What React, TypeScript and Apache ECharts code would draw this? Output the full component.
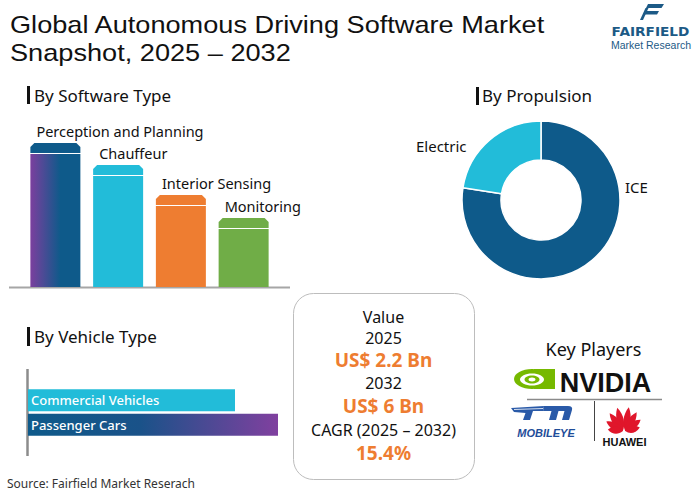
import React, { useEffect, useRef } from "react";
import * as echarts from "echarts";

const titleLines = ["Global Autonomous Driving Software Market", "Snapshot, 2025 – 2032"];
const softwareTypes = ["Perception and Planning", "Chauffeur", "Interior Sensing", "Monitoring"];
const softwareValues = [144, 122, 92, 69];
const propulsionTypes = ["ICE", "Electric"];
const propulsionValues = [77.5, 22.5];
const vehicleTypes = ["Commercial Vehicles", "Passenger Cars"];
const vehicleValues = [207, 250];
const valueLines = ["Value", "2025", "US$ 2.2 Bn", "2032", "US$ 6 Bn", "CAGR (2025 – 2032)", "15.4%"];
const sectionTitles = ["By Software Type", "By Propulsion", "By Vehicle Type"];
const sourceText = "Source: Fairfield Market Reserach";

const FONT = "'Noto Sans', sans-serif";
const DARK_BLUE = "#0e5a8a";
const PURPLE = "#7b3f9e";
const CYAN = "#22bcd9";
const ORANGE = "#ee7d31";
const GREEN = "#70ad47";

echarts.graphic.registerShape(
  "petal",
  echarts.graphic.extendPath("M0 0 C-4.5 -5 -5.5 -13 -1 -20 C4.5 -13 4 -5 0 0 Z", {})
);
echarts.graphic.registerShape(
  "mobM",
  echarts.graphic.extendPath(
    "M33 0 L57 0 Q62 0 61 4 L58 14 L51 14 L53.5 5 L47.5 5 L45 14 L38 14 L40.5 5 L32 5 Z",
    {}
  )
);
echarts.graphic.registerShape(
  "mobWing",
  echarts.graphic.extendPath("M0 2 L33 0 L32 5 L22 5 L19 14 L12 14 L14.5 7 L3 6 Z", {})
);

const softwareBody = [
  new echarts.graphic.LinearGradient(0, 0, 1, 0, [
    { offset: 0, color: PURPLE },
    { offset: 0.6, color: DARK_BLUE },
    { offset: 1, color: DARK_BLUE },
  ]),
  CYAN,
  ORANGE,
  GREEN,
];
const softwareCap = [DARK_BLUE, CYAN, ORANGE, GREEN];

export default function App() {
  const ref = useRef<HTMLDivElement>(null);
  useEffect(() => {
    const chart = echarts.init(ref.current!, undefined, { renderer: "svg" });

    const petals: any[] = [];
    const angles = [11, 34, 57, 80];
    const scales = [1.2, 1.1, 0.95, 0.75];
    angles.forEach((a, i) => {
      [1, -1].forEach((s) => {
        petals.push({
          type: "petal",
          x: 624 + s * 1.2,
          y: 431,
          rotation: (s * -a * Math.PI) / 180,
          scaleX: 1,
          scaleY: scales[i],
          style: { fill: "#e0162b" },
        });
      });
    });

    const valueStyles = [
      { y: 317, size: 16, color: "#111", bold: false },
      { y: 338, size: 16, color: "#111", bold: false },
      { y: 360, size: 19, color: ORANGE, bold: true },
      { y: 383, size: 16, color: "#111", bold: false },
      { y: 406, size: 19, color: ORANGE, bold: true },
      { y: 430, size: 16, color: "#111", bold: false },
      { y: 453, size: 19, color: ORANGE, bold: true },
    ];

    const option: any = {
      animation: false,
      backgroundColor: "#fff",
      grid: [
        { left: 24, top: 87, width: 251, height: 200 },
        { left: 28, top: 388, width: 300, height: 49 },
      ],
      xAxis: [
        { gridIndex: 0, type: "category", data: softwareTypes, show: false },
        { gridIndex: 1, type: "value", min: 0, max: 300, show: false },
      ],
      yAxis: [
        { gridIndex: 0, type: "value", min: 0, max: 200, show: false },
        { gridIndex: 1, type: "category", data: vehicleTypes, inverse: true, show: false },
      ],
      series: [
        {
          type: "custom",
          xAxisIndex: 0,
          yAxisIndex: 0,
          data: softwareValues.map((v, i) => [i, v]),
          renderItem: (params: any, api: any) => {
            const idx = api.value(0);
            const val = api.value(1);
            const top = api.coord([idx, val]);
            const base = api.coord([idx, 0]);
            const w = 50;
            const x0 = top[0] - w / 2;
            const capH = 10;
            return {
              type: "group",
              children: [
                {
                  type: "rect",
                  shape: { x: x0, y: top[1] + capH + 1, width: w, height: base[1] - top[1] - capH - 1 },
                  style: { fill: softwareBody[idx] },
                },
                {
                  type: "polygon",
                  shape: {
                    points: [
                      [x0, top[1] + capH],
                      [x0, top[1] + 4],
                      [x0 + 4, top[1]],
                      [x0 + w - 4, top[1]],
                      [x0 + w, top[1] + 4],
                      [x0 + w, top[1] + capH],
                    ],
                  },
                  style: { fill: softwareCap[idx] },
                },
                {
                  type: "text",
                  style: {
                    text: softwareTypes[idx],
                    x: x0 + 6,
                    y: top[1] - 12,
                    fill: "#111",
                    fontSize: 14.5,
                    fontFamily: FONT,
                    align: "left",
                    verticalAlign: "middle",
                  },
                },
              ],
            };
          },
        },
        {
          type: "pie",
          center: [541, 200],
          radius: [40, 79],
          startAngle: 90,
          clockwise: true,
          itemStyle: { borderColor: "#fff", borderWidth: 1.5 },
          label: {
            show: true,
            position: "outside",
            formatter: "{b}",
            color: "#111",
            fontSize: 15,
            fontFamily: FONT,
          },
          labelLine: { show: false },
          labelLayout: (p: any) =>
            p.dataIndex === 0
              ? { x: 625, y: 187, align: "left", verticalAlign: "middle" }
              : { x: 416, y: 146, align: "left", verticalAlign: "middle" },
          data: propulsionTypes.map((n, i) => ({
            name: n,
            value: propulsionValues[i],
            itemStyle: { color: i === 0 ? DARK_BLUE : CYAN },
          })),
        },
        {
          type: "bar",
          xAxisIndex: 1,
          yAxisIndex: 1,
          barWidth: 22,
          label: {
            show: true,
            position: "insideLeft",
            distance: 3,
            formatter: "{b}",
            color: "#fff",
            fontSize: 13,
            fontWeight: 500,
            fontFamily: FONT,
          },
          data: vehicleValues.map((v, i) => ({
            value: v,
            itemStyle: {
              color:
                i === 0
                  ? CYAN
                  : new echarts.graphic.LinearGradient(0, 0, 1, 0, [
                      { offset: 0, color: DARK_BLUE },
                      { offset: 0.45, color: "#1a5289" },
                      { offset: 1, color: "#80409f" },
                    ]),
            },
          })),
        },
      ],
      graphic: [
        // title
        ...titleLines.map((t, i) => ({
          type: "text",
          x: 10,
          y: 24 + i * 28,
          scaleX: 1.095,
          style: {
            text: t,
            fill: "#111",
            fontSize: 24.8,
            fontFamily: "'Liberation Sans', sans-serif",
            verticalAlign: "middle",
          },
        })),
        // Fairfield logo
        { type: "polygon", shape: { points: [[648, 4], [664, 4], [661.5, 8], [646, 8]] }, style: { fill: "#1c5a86" } },
        { type: "polygon", shape: { points: [[645, 11], [659, 11], [657, 14.5], [644, 14.5]] }, style: { fill: "#1c5a86" } },
        { type: "polygon", shape: { points: [[645.5, 8], [648.5, 8], [643, 20], [640, 20]] }, style: { fill: "#1c5a86" } },
        {
          type: "text",
          x: 650.5,
          y: 31.5,
          scaleX: 1.19,
          style: { text: "FAIRFIELD", fill: "#1c5a86", fontSize: 11.5, fontWeight: "bold", fontFamily: "'DejaVu Sans', sans-serif", align: "center", verticalAlign: "middle" },
        },
        {
          type: "text",
          x: 651,
          y: 44.5,
          style: { text: "Market Research", fill: "#1c5a86", fontSize: 10.5, fontFamily: "'Liberation Sans', sans-serif", align: "center", verticalAlign: "middle" },
        },
        // section headers
        { type: "rect", shape: { x: 27, y: 86, width: 3, height: 18 }, style: { fill: "#111" } },
        { type: "text", x: 34, y: 95, style: { text: sectionTitles[0], fill: "#111", fontSize: 17, fontFamily: FONT, verticalAlign: "middle" } },
        { type: "rect", shape: { x: 476, y: 87, width: 3, height: 18 }, style: { fill: "#111" } },
        { type: "text", x: 482, y: 95, style: { text: sectionTitles[1], fill: "#111", fontSize: 17, fontFamily: FONT, verticalAlign: "middle" } },
        { type: "rect", shape: { x: 27, y: 327, width: 3, height: 19 }, style: { fill: "#111" } },
        { type: "text", x: 34, y: 336, style: { text: sectionTitles[2], fill: "#111", fontSize: 17, fontFamily: FONT, verticalAlign: "middle" } },
        // axis lines
        { type: "line", shape: { x1: 9, y1: 287.5, x2: 290, y2: 287.5 }, style: { stroke: "#a6a6a6", lineWidth: 2 } },
        { type: "line", shape: { x1: 27.5, y1: 369, x2: 27.5, y2: 456 }, style: { stroke: "#8c8c8c", lineWidth: 2.5 } },
        // value box
        { type: "rect", shape: { x: 293.5, y: 293.5, width: 181, height: 186, r: 20 }, style: { fill: "none", stroke: "#bdbdbd", lineWidth: 1 } },
        ...valueLines.map((t, i) => ({
          type: "text",
          x: 383.5,
          y: valueStyles[i].y,
          style: {
            text: t,
            fill: valueStyles[i].color,
            fontSize: valueStyles[i].size,
            fontWeight: valueStyles[i].bold ? "bold" : "normal",
            fontFamily: FONT,
            align: "center",
            verticalAlign: "middle",
          },
        })),
        // key players
        { type: "text", x: 593.5, y: 349, style: { text: "Key Players", fill: "#111", fontSize: 18, fontFamily: FONT, align: "center", verticalAlign: "middle" } },
        // NVIDIA
        { type: "rect", shape: { x: 534, y: 369, width: 21, height: 20 }, style: { fill: "#76b900" } },
        { type: "ellipse", shape: { cx: 532, cy: 379, rx: 18, ry: 10 }, style: { fill: "#76b900" } },
        { type: "ellipse", shape: { cx: 532, cy: 379.5, rx: 12, ry: 6 }, style: { fill: "#fff" } },
        { type: "ellipse", shape: { cx: 532, cy: 379.5, rx: 7.5, ry: 4 }, style: { fill: "#76b900" } },
        { type: "ellipse", shape: { cx: 532, cy: 379.5, rx: 3.5, ry: 2 }, style: { fill: "#fff" } },
        { type: "text", x: 605.5, y: 383, style: { text: "NVIDIA", fill: "#111", fontSize: 27, fontWeight: "bold", fontFamily: "'Liberation Sans', sans-serif", align: "center", verticalAlign: "middle" } },
        { type: "line", shape: { x1: 527, y1: 399.5, x2: 662, y2: 399.5 }, style: { stroke: "#8a8a8a", lineWidth: 1.5 } },
        { type: "line", shape: { x1: 594.5, y1: 401, x2: 594.5, y2: 441 }, style: { stroke: "#444", lineWidth: 1 } },
        // Mobileye
        { type: "mobWing", x: 511, y: 406, style: { fill: "#2a5aa8" } },
        { type: "mobM", x: 511, y: 406, style: { fill: "#2a5aa8" } },
        { type: "line", shape: { x1: 514, y1: 409.5, x2: 543, y2: 408.5 }, style: { stroke: "#fff", lineWidth: 0.8 } },
        { type: "text", x: 546, y: 432.5, style: { text: "MOBILEYE", fill: "#1f4d99", fontSize: 11, fontWeight: "bold", fontStyle: "italic", fontFamily: "'Liberation Sans', sans-serif", align: "center", verticalAlign: "middle" } },
        // Huawei
        ...petals,
        { type: "text", x: 624.5, y: 441.5, style: { text: "HUAWEI", fill: "#111", fontSize: 11, fontWeight: "bold", fontFamily: "'Liberation Sans', sans-serif", align: "center", verticalAlign: "middle" } },
        // source
        { type: "text", x: 7, y: 483, style: { text: sourceText, fill: "#333", fontSize: 12, fontFamily: FONT, verticalAlign: "middle" } },
      ],
    };
    chart.setOption(option);
    return () => chart.dispose();
  }, []);
  return <div ref={ref} style={{ position: "absolute", left: 0, top: 0, width: 700, height: 491 }} />;
}
